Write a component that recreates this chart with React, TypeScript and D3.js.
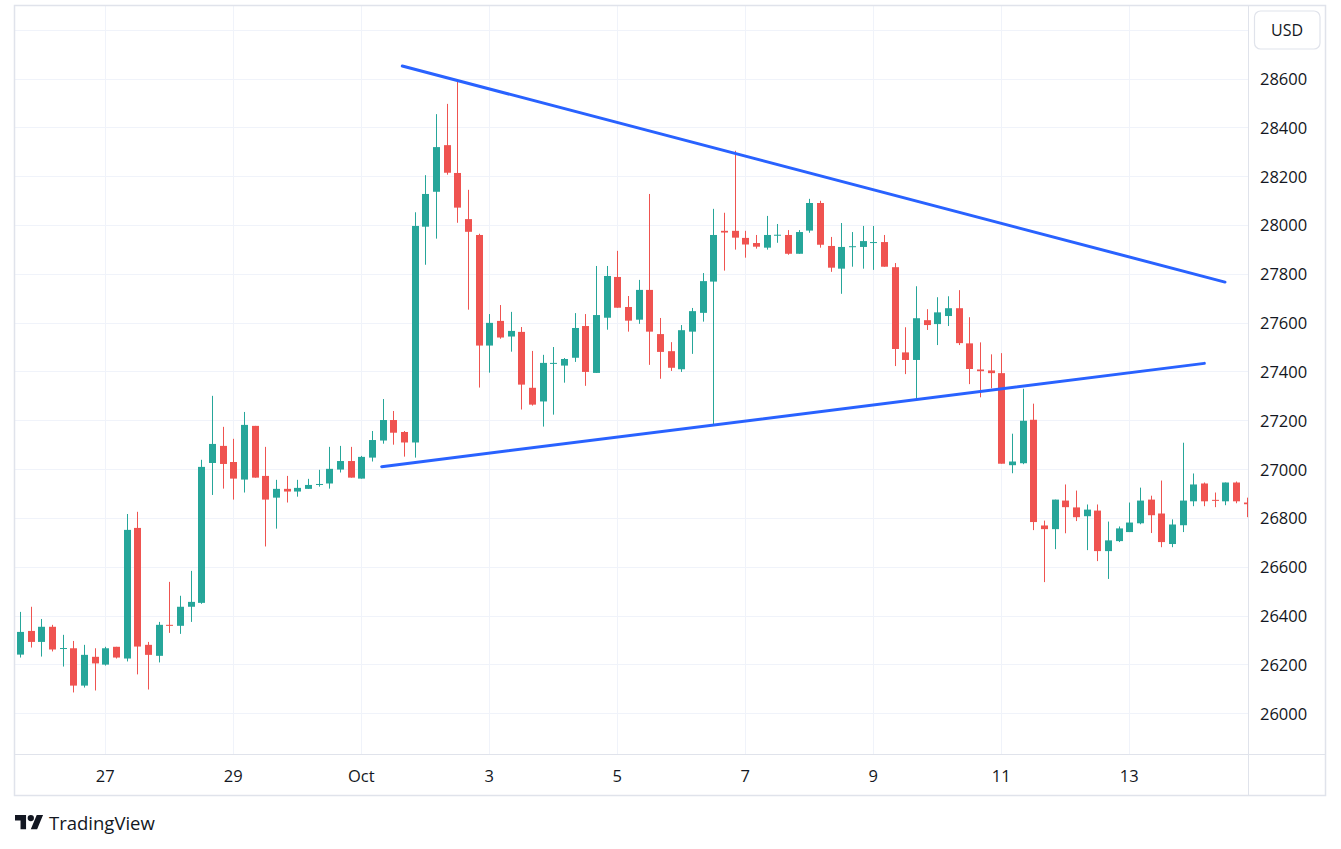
import { useEffect, useRef } from 'react';
import * as d3 from 'd3';

// 4h candles, first one opens 2023-09-25 16:00 UTC
const firstCandle = Date.UTC(2023, 8, 25, 16);
const candleStep = 4 * 3600 * 1000;

const opens = [
  26240, 26337, 26292, 26354, 26264, 26266, 26113, 26231, 26199, 26272, 26224, 26759, 26280, 26235, 26362, 26358,
  26436, 26452, 27025, 27095, 27029, 26957, 27177, 26972, 26883, 26919, 26908, 26919, 26935, 26941, 26998, 27033,
  26961, 27047, 27117, 27201, 27152, 27109, 27993, 28136, 28327, 28213, 28024, 27959, 27506, 27607, 27543, 27562,
  27333, 27277, 27432, 27424, 27456, 27586, 27394, 27620, 27787, 27664, 27612, 27734, 27553, 27483, 27409, 27563,
  27640, 27768, 27976, 27976, 27947, 27926, 27907, 27957, 27959, 27882, 27977, 28090, 27914, 27821, 27909, 27910,
  27927, 27930, 27827, 27478, 27447, 27610, 27594, 27627, 27659, 27515, 27408, 27404, 27393, 27016, 27024, 27202,
  26769, 26754, 26871, 26843, 26807, 26830, 26664, 26705, 26742, 26778, 26875, 26818, 26693, 26770, 26868, 26941,
  26874, 26868, 26945, 26863,
];
const highs = [
  26415, 26436, 26386, 26362, 26321, 26296, 26280, 26266, 26272, 26272, 26816, 26825, 26292, 26374, 26538, 26481,
  26583, 27038, 27300, 27173, 27124, 27234, 27177, 27091, 26956, 26972, 26956, 26960, 26997, 27091, 27095, 27091,
  27054, 27156, 27287, 27238, 27156, 28052, 28204, 28454, 28496, 28596, 28144, 27964, 27635, 27672, 27644, 27582,
  27484, 27468, 27500, 27455, 27639, 27635, 27832, 27832, 27894, 27709, 27775, 28127, 27619, 27520, 27590, 27660,
  27803, 28066, 28050, 28304, 27976, 27959, 28037, 28004, 27979, 27979, 28107, 28099, 27951, 28008, 27971, 27996,
  27996, 27959, 27844, 27581, 27749, 27655, 27704, 27708, 27733, 27622, 27519, 27470, 27475, 27145, 27329, 27268,
  26789, 26875, 26937, 26912, 26855, 26855, 26785, 26765, 26863, 26924, 26891, 26953, 26794, 27108, 26982, 26945,
  26904, 26945, 26949, 26883,
];
const lows = [
  26228, 26269, 26232, 26253, 26191, 26085, 26105, 26093, 26195, 26224, 26212, 26159, 26097, 26208, 26329, 26325,
  26374, 26448, 26894, 26920, 26875, 26904, 26965, 26683, 26756, 26863, 26887, 26919, 26928, 26920, 26986, 26965,
  26961, 27031, 27104, 27100, 27051, 27047, 27837, 27944, 28206, 28009, 27653, 27334, 27395, 27534, 27481, 27244,
  27260, 27174, 27223, 27354, 27439, 27341, 27394, 27571, 27661, 27563, 27595, 27427, 27370, 27402, 27398, 27472,
  27604, 27184, 27813, 27899, 27866, 27903, 27899, 27927, 27878, 27882, 27968, 27907, 27808, 27718, 27829, 27821,
  27816, 27829, 27422, 27389, 27279, 27570, 27508, 27586, 27508, 27348, 27294, 27331, 27022, 26983, 27020, 26750,
  26537, 26672, 26737, 26787, 26668, 26623, 26550, 26701, 26742, 26774, 26738, 26680, 26680, 26742, 26848, 26848,
  26844, 26852, 26860, 26803,
];
const closes = [
  26333, 26292, 26354, 26261, 26267, 26113, 26239, 26204, 26266, 26228, 26751, 26273, 26239, 26362, 26359, 26436,
  26456, 27009, 27103, 27021, 26961, 27181, 26965, 26875, 26919, 26908, 26923, 26935, 26939, 27001, 27033, 26965,
  27050, 27119, 27201, 27149, 27109, 27996, 28127, 28319, 28214, 28071, 27972, 27506, 27599, 27539, 27566, 27346,
  27264, 27435, 27435, 27451, 27578, 27398, 27631, 27791, 27661, 27608, 27734, 27563, 27480, 27415, 27569, 27647,
  27770, 27959, 27969, 27948, 27920, 27911, 27959, 27960, 27882, 27971, 28090, 27919, 27825, 27910, 27913, 27934,
  27930, 27829, 27492, 27447, 27618, 27590, 27642, 27659, 27516, 27410, 27401, 27393, 27022, 27031, 27198, 26783,
  26754, 26875, 26844, 26803, 26834, 26664, 26708, 26757, 26781, 26871, 26811, 26701, 26773, 26871, 26937, 26868,
  26872, 26945, 26868, 26856,
];

// hand-drawn triangle
const upperLine = [
  { time: '2023-10-01T15:22:00Z', price: 28651 },
  { time: '2023-10-14T11:53:00Z', price: 27766 },
];
const lowerLine = [
  { time: '2023-10-01T07:39:00Z', price: 27010 },
  { time: '2023-10-14T04:08:00Z', price: 27433 },
];

const timeTicks = ['2023-09-27', '2023-09-29', '2023-10-01', '2023-10-03', '2023-10-05', '2023-10-07', '2023-10-09', '2023-10-11', '2023-10-13'];
const timeTickLabels = ['27', '29', 'Oct', '3', '5', '7', '9', '11', '13'];
const priceTicks = [26000, 26200, 26400, 26600, 26800, 27000, 27200, 27400, 27600, 27800, 28000, 28200, 28400, 28600, 28800];
const currency = 'USD';

const W = 1341;
const H = 849;
const FONT = '"Open Sans", "Noto Sans", sans-serif';

export default function App() {
  const svgRef = useRef<SVGSVGElement>(null);

  useEffect(() => {
    if (!svgRef.current) return;
    const svg = d3.select(svgRef.current);
    svg.selectAll('*').remove();

    const plot = { left: 15, right: 1248, top: 5, bottom: 754 };
    const frame = { left: 14.5, right: 1325.5, top: 5.5, bottom: 795.5 };

    const x = d3.scaleUtc()
      .domain([new Date(Date.UTC(2023, 8, 27)), new Date(Date.UTC(2023, 9, 13))])
      .range([105.3, 1129.3]);
    const y = d3.scaleLinear().domain([26000, 28600]).range([713.2, 78.5]);

    const candles = opens.map((o, i) => ({
      t: new Date(firstCandle + i * candleStep),
      o, h: highs[i], l: lows[i], c: closes[i],
    }));

    svg.append('rect').attr('width', W).attr('height', H).attr('fill', '#ffffff');

    svg.append('clipPath').attr('id', 'plot-clip')
      .append('rect')
      .attr('x', plot.left).attr('y', plot.top)
      .attr('width', plot.right - plot.left).attr('height', plot.bottom - plot.top);

    // grid
    const grid = svg.append('g').attr('clip-path', 'url(#plot-clip)');
    grid.selectAll('.hgrid')
      .data(priceTicks)
      .join('line')
      .attr('x1', plot.left).attr('x2', plot.right)
      .attr('y1', d => Math.round(y(d)) + 0.5).attr('y2', d => Math.round(y(d)) + 0.5)
      .attr('stroke', '#f0f3fa').attr('stroke-width', 1);
    grid.selectAll('.vgrid')
      .data(timeTicks)
      .join('line')
      .attr('x1', d => Math.round(x(new Date(d))) + 0.5).attr('x2', d => Math.round(x(new Date(d))) + 0.5)
      .attr('y1', plot.top).attr('y2', plot.bottom)
      .attr('stroke', '#f0f3fa').attr('stroke-width', 1);

    // candles
    const cg = svg.append('g').attr('clip-path', 'url(#plot-clip)');
    const bar = cg.selectAll('g.candle')
      .data(candles)
      .join('g')
      .attr('class', 'candle');
    const color = (d: typeof candles[number]) => (d.c >= d.o ? '#26a69a' : '#ef5350');

    bar.append('line')
      .attr('x1', d => Math.round(x(d.t)) + 0.5)
      .attr('x2', d => Math.round(x(d.t)) + 0.5)
      .attr('y1', d => y(d.h))
      .attr('y2', d => y(d.l))
      .attr('stroke', color)
      .attr('stroke-width', 1);

    bar.append('rect')
      .attr('x', d => Math.round(x(d.t)) - 3)
      .attr('width', 7)
      .attr('y', d => y(Math.max(d.o, d.c)))
      .attr('height', d => Math.max(1, Math.abs(y(d.o) - y(d.c))))
      .attr('fill', color);

    // trend lines
    const line = d3.line<{ time: string; price: number }>()
      .x(d => x(new Date(d.time)))
      .y(d => y(d.price));
    [upperLine, lowerLine].forEach(pts => {
      cg.append('path')
        .attr('d', line(pts))
        .attr('fill', 'none')
        .attr('stroke', '#2962ff')
        .attr('stroke-width', 3)
        .attr('stroke-linecap', 'round');
    });

    // frame and axis separators
    const border = '#e0e3eb';
    svg.append('rect')
      .attr('x', frame.left).attr('y', frame.top)
      .attr('width', frame.right - frame.left).attr('height', frame.bottom - frame.top)
      .attr('fill', 'none').attr('stroke', border).attr('stroke-width', 1.5);
    svg.append('line')
      .attr('x1', plot.right + 0.5).attr('x2', plot.right + 0.5)
      .attr('y1', frame.top).attr('y2', frame.bottom)
      .attr('stroke', border);
    svg.append('line')
      .attr('x1', frame.left).attr('x2', frame.right)
      .attr('y1', plot.bottom + 0.5).attr('y2', plot.bottom + 0.5)
      .attr('stroke', border);

    // price labels
    svg.append('g')
      .selectAll('text')
      .data(priceTicks.filter(p => p <= 28600))
      .join('text')
      .attr('x', 1260)
      .attr('y', d => y(d) + 6.5)
      .style('font-family', FONT)
      .style('font-size', '16.5px')
      .style('fill', '#131722')
      .text(d => d);

    // time labels
    svg.append('g')
      .selectAll('text')
      .data(timeTicks)
      .join('text')
      .attr('x', d => x(new Date(d)))
      .attr('y', 782)
      .attr('text-anchor', 'middle')
      .style('font-family', FONT)
      .style('font-size', '16.5px')
      .style('fill', '#131722')
      .text((d, i) => timeTickLabels[i]);

    // currency button
    svg.append('rect')
      .attr('x', 1254.5).attr('y', 11)
      .attr('width', 65.5).attr('height', 38)
      .attr('rx', 6)
      .attr('fill', '#ffffff')
      .attr('stroke', border).attr('stroke-width', 1.2);
    svg.append('text')
      .attr('x', 1287).attr('y', 35.5)
      .attr('text-anchor', 'middle')
      .style('font-family', FONT)
      .style('font-size', '16px')
      .style('fill', '#131722')
      .text(currency);

    // logo
    const logo = svg.append('g').attr('transform', 'translate(15,811.8) scale(0.79)').attr('fill', '#131722');
    logo.append('path').attr('d', 'M14 22H7V11H0V4h14v18zM28 22h-8l7.5-18h8L28 22z');
    logo.append('circle').attr('cx', 20).attr('cy', 8).attr('r', 4);
    svg.append('text')
      .attr('x', 49).attr('y', 830)
      .style('font-family', FONT)
      .style('font-size', '18.5px')
      .style('fill', '#131722')
      .text('TradingView');
  }, []);

  return (
    <svg
      ref={svgRef}
      width={W}
      height={H}
      style={{ position: 'absolute', left: 0, top: 0, display: 'block' }}
    />
  );
}
